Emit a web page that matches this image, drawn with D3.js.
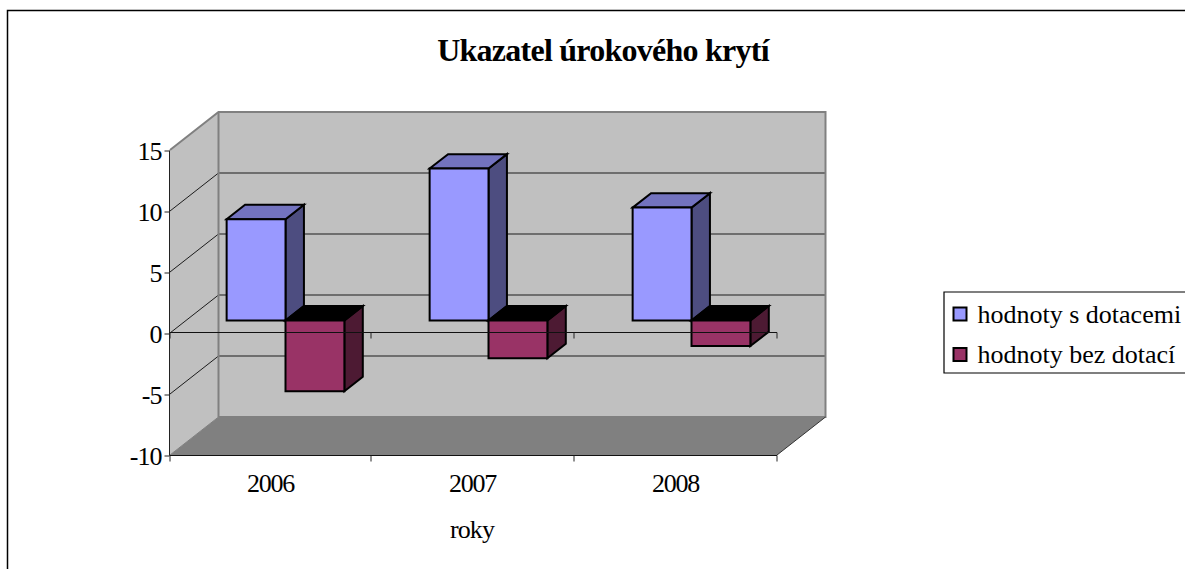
<!DOCTYPE html>
<html><head><meta charset="utf-8">
<script src="https://cdn.jsdelivr.net/npm/d3@7"></script>
<style>
html,body{margin:0;padding:0;background:#fff}
svg{display:block}
text{font-family:"Liberation Serif",serif;fill:#000}
</style></head><body><div id="c"></div>
<script>
const categories=["2006","2007","2008"];
const seriesNames=["hodnoty s dotacemi","hodnoty bez dotací"];
const withSubsidies=[8.3,12.45,9.25];
const withoutSubsidies=[-5.8,-3.1,-2.1];
const yTicks=[-10,-5,0,5,10,15];
const titleText="Ukazatel úrokového krytí";
const xTitleText="roky";

const W=1185,H=569;
const svg=d3.select("#c").append("svg").attr("width",W).attr("height",H);
const x0=d3.scaleBand().domain(categories).range([168,777]).paddingInner(.42).paddingOuter(.21).align(.5);
const x1=d3.scaleBand().domain(seriesNames).range([0,x0.bandwidth()]);
const xEdge=d3.scaleLinear().domain([0,1,3]).range([170,371,777]);
const y=d3.scaleLinear().domain([-10,15]).range([455,150]);
const DX=48.5,DY=38;
const P=(px,v,d)=>[px+d*DX,y(v)-d*DY];
const poly=pts=>pts.map(p=>p.join(",")).join(" ");

// frame
svg.append("path").attr("d",`M7.5,${H}V10.5H${W}`).attr("fill","none").attr("stroke","#000").attr("stroke-width",1.5);

// walls and floor
const L=170,R=777,vMin=-10,vMax=15;
svg.append("polygon").attr("points",poly([P(L,vMin,1),P(R,vMin,1),P(R,vMax,1),P(L,vMax,1)])).attr("fill","#c0c0c0");
svg.append("polygon").attr("points",poly([P(L,vMin,0),P(L,vMin,1),P(L,vMax,1),P(L,vMax,0)])).attr("fill","#c0c0c0");
svg.append("polygon").attr("points",poly([P(L,vMin,0),P(R,vMin,0),P(R,vMin,1),P(L,vMin,1)])).attr("fill","#808080");

// gridlines on wall
yTicks.filter(t=>t>vMin&&t<vMax).forEach(t=>{
  svg.append("polyline").attr("points",poly([P(L,t,0),P(L,t,1),P(R,t,1)]))
    .attr("fill","none").attr("stroke","#1c1c1c").attr("stroke-width",1);
});
// wall borders
svg.append("polyline").attr("points",poly([P(L,vMax,0),P(L,vMax,1),P(R,vMax,1),P(R,vMin,1),P(L,vMin,1)]))
  .attr("fill","none").attr("stroke","#808080").attr("stroke-width",2);
svg.append("line").attr("x1",P(L,vMax,1)[0]).attr("x2",P(L,vMin,1)[0]).attr("y1",P(L,vMax,1)[1]).attr("y2",P(L,vMin,1)[1])
  .attr("stroke","#808080").attr("stroke-width",2);
svg.append("polyline").attr("points",poly([P(L,vMin,1),P(L,vMin,0)])).attr("fill","none").attr("stroke","#808080").attr("stroke-width",1);
svg.append("polyline").attr("points",poly([P(R,vMin,0),P(R,vMin,1)])).attr("fill","none").attr("stroke","#333").attr("stroke-width",1);

// bars
const d1=.33,d2=.71;
const colours=[{front:"#9999ff",side:"#4d4d80",top:"#7373bf"},{front:"#993366",side:"#4d1a33",top:"#000000"}];
[withSubsidies,withoutSubsidies].forEach((vals,si)=>{
  const g=svg.append("g").attr("stroke","#000").attr("stroke-width",2).attr("stroke-linejoin","miter");
  const c=colours[si];
  const data=categories.map((k,i)=>({k,v:vals[i]}));
  data.forEach(d=>{
    const a=x0(d.k)+x1(seriesNames[si]),b=a+x1.bandwidth();
    const hi=Math.max(0,d.v),lo=Math.min(0,d.v);
    g.append("polygon").attr("fill",c.side).attr("points",poly([P(b,lo,d1),P(b,lo,d2),P(b,hi,d2),P(b,hi,d1)]));
    g.append("polygon").attr("fill",c.top).attr("points",poly([P(a,hi,d1),P(b,hi,d1),P(b,hi,d2),P(a,hi,d2)]));
    g.append("polygon").attr("fill",c.front).attr("points",poly([P(a,lo,d1),P(b,lo,d1),P(b,hi,d1),P(a,hi,d1)]));
  });
});

// axes
const yAxis=d3.axisLeft(y).tickValues(yTicks).tickSize(5).tickPadding(3).tickFormat(d=>String(d));
const ya=svg.append("g").attr("transform",`translate(${L-.5},.5)`).call(yAxis);
ya.select(".domain").attr("stroke","#222").attr("d",`M0,${y(vMax)}V${y(vMin)}`);
ya.selectAll("line").attr("stroke","#222");
ya.selectAll("text").attr("font-size",26).attr("font-family","Liberation Serif").attr("dy",".34em").attr("letter-spacing",-1);

const xAxisF=d3.axisBottom(xEdge).tickValues([0,1,2,3]).tickSize(6).tickFormat("");
[vMin,0].forEach(v=>{
  const a=svg.append("g").attr("transform",`translate(-.5,${y(v)+(v===0?-.5:.5)})`).call(xAxisF);
  a.select(".domain").attr("stroke","#111").attr("d",`M${L},0H${R+.5}`);
  a.selectAll("line").attr("stroke","#222");
});
// category labels
svg.selectAll(".cat").data(categories).join("text").attr("class","cat")
  .attr("x",(d,i)=>(xEdge(i)+xEdge(i+1))/2).attr("y",492)
  .attr("text-anchor","middle").attr("font-size",26).attr("letter-spacing",-1.3).text(d=>d);
svg.append("text").attr("x",472).attr("y",538).attr("text-anchor","middle").attr("font-size",26).attr("letter-spacing",-.9).text(xTitleText);
svg.append("text").attr("x",603).attr("y",61).attr("text-anchor","middle").attr("font-size",32).attr("letter-spacing",-.75).attr("font-weight","bold").text(titleText);

// legend
svg.append("path").attr("d",`M${W},292H944V373H${W}`).attr("fill","#fff").attr("stroke","#000").attr("stroke-width",1.2);
const lg=svg.selectAll(".lg").data(seriesNames).join("g").attr("class","lg")
  .attr("transform",(d,i)=>`translate(953.5,${307.5+i*40.5})`);
lg.append("rect").attr("width",13).attr("height",13).attr("fill",(d,i)=>colours[i].front).attr("stroke","#000").attr("stroke-width",2);
lg.append("text").attr("x",24).attr("y",15).attr("font-size",26).text(d=>d);
</script></body></html>
